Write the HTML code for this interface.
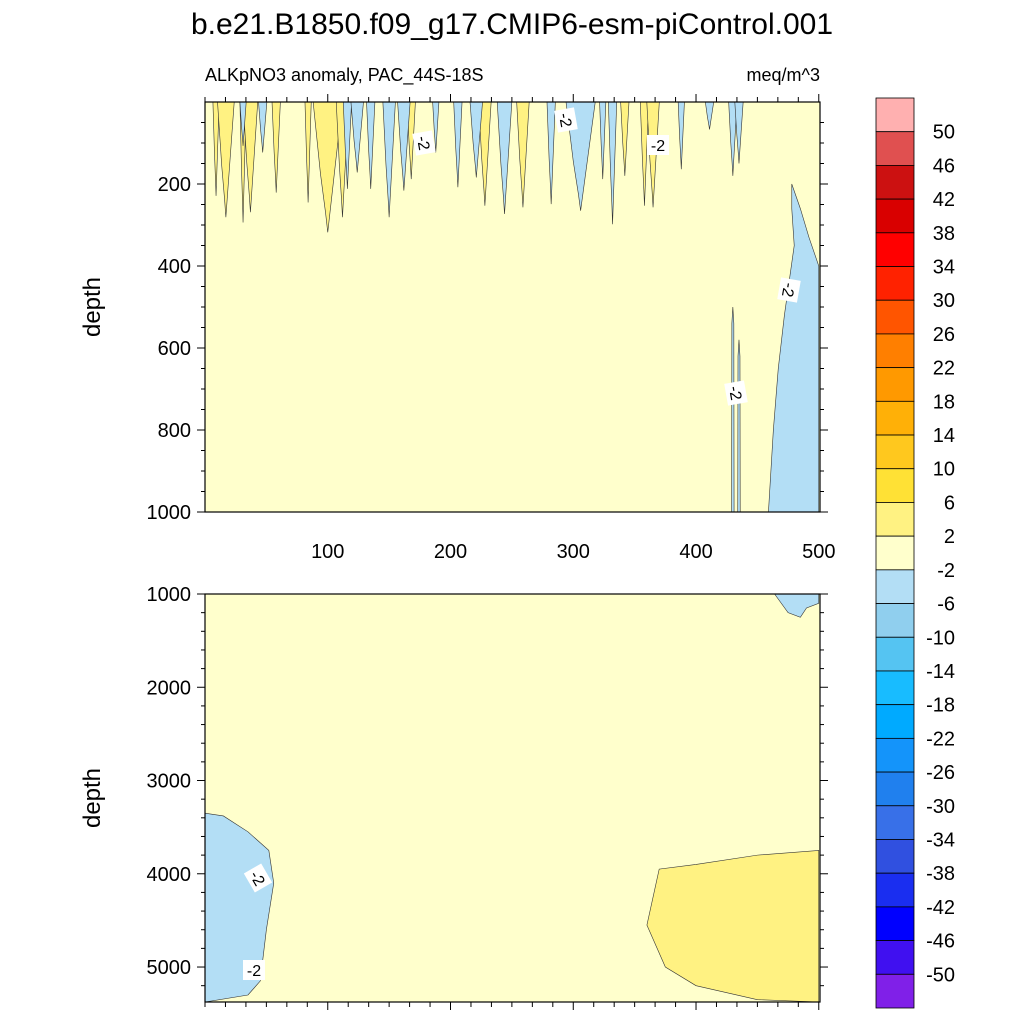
<!DOCTYPE html>
<html><head><meta charset="utf-8"><style>
body{margin:0;background:#fff;}
svg{display:block;font-family:"Liberation Sans",sans-serif;}
</style></head><body>
<svg id="chart" width="1024" height="1024" viewBox="0 0 1024 1024">
<text x="512" y="34" font-size="30" text-anchor="middle">b.e21.B1850.f09_g17.CMIP6-esm-piControl.001</text>
<text x="205" y="81" font-size="18">ALKpNO3 anomaly, PAC_44S-18S</text>
<text x="820" y="81" font-size="18" text-anchor="end">meq/m^3</text>
<g id="topg"></g><g id="botg"></g><g id="cbar"></g>
</svg>
<script>
const NS='http://www.w3.org/2000/svg';
// ---- data ----
const levels=[-50,-46,-42,-38,-34,-30,-26,-22,-18,-14,-10,-6,-2,2,6,10,14,18,22,26,30,34,38,42,46,50];
const colors=['#8020e8','#4010f0','#0000ff','#1a2ef0','#3050e0','#3870e8','#2080ee','#1494fa','#00aaff','#18bcff','#55c4f2','#90cfee','#b3def5','#ffffcc','#fff282','#ffe135','#ffc81e','#ffb007','#ff9900','#ff7f00','#ff5500','#ff2200','#ff0000','#d90000','#cc1111','#e05050','#ffb0b0'];
const xTicks=[100,200,300,400,500];
const topYTicks=[200,400,600,800,1000];
const botYTicks=[1000,2000,3000,4000,5000];
const yellowSpikeYear=[9,17,31,37,58,84,100,112,168,228,259,342,358,365];
const yellowSpikeDepth=[229,281,294,269,221,245,318,281,188,253,257,180,253,257];
const yellowSpikeHW=[1.5,4,1.5,3.5,2,1.5,7,3,2,3,3,2,2,3];
const blueSpikeYear=[31,47,116,124,135,150,162,188,206,221,244,282,306,332,324,388,411,430,435];
const blueSpikeDepth=[107,123,212,172,212,281,216,123,208,184,273,249,265,298,188,164,67,180,150];
const blueSpikeHW=[1.5,2,2,3,2,3,3,1.5,2,3,3.5,2,7,2,1.5,1.5,2,2,2];
const topBlueRegionYear=[478,485,492,500,500,459,463,467,472,480,478];
const topBlueRegionDepth=[200,260,330,400,1000,1000,800,650,520,350,260];
const deepSpikeYear=[430,435];
const deepSpikeTop=[500,580];
const botBlueYear=[0,15,35,52,56,50,45,35,0];
const botBlueDepth=[3350,3380,3550,3750,4100,4600,5150,5300,5375];
const botYellowYear=[360,370,400,450,500,500,450,400,375];
const botYellowDepth=[4550,3950,3900,3800,3750,5375,5350,5200,5000];
const botTopBlueYear=[464,475,485,490,500,500];
const botTopBlueDepth=[1000,1200,1250,1150,1100,1000];
// ---- axes ----
const X0=205,X1=820;
const xs=v=>X0+(v/501)*(X1-X0);
const T0=102,T1=512,B0=594,B1=1002;
const ysT=d=>T0+(d/1000)*(T1-T0);
const ysB=d=>B0+((d-1000)/4375)*(B1-B0);
function el(p,tag,at,name){const e=document.createElementNS(NS,tag);for(const k in at)e.setAttribute(k,at[k]);p.appendChild(e);return e;}
const gTop=document.getElementById('topg'),gBot=document.getElementById('botg'),cb=document.getElementById('cbar');
const C=v=>colors[(()=>{let i=0;while(i<levels.length&&v>levels[i])i++;return i;})()];
const yel=C(4),blu=C(-4),bg=C(0);
const W=1.7;
el(gTop,'rect',{x:X0,y:T0,width:X1-X0,height:T1-T0,fill:bg},'top-panel-background');
function spike(g,y,d,hw,col,ys,name,y0){
  hw*=W;
  const p=`M${xs(Math.max(0,y-hw))},${ys(y0)} L${xs(y-hw*0.5)},${ys(y0+(d-y0)*0.55)} L${xs(y-hw*0.15)},${ys(y0+(d-y0)*0.85)} L${xs(y)},${ys(d)} L${xs(y+hw*0.2)},${ys(y0+(d-y0)*0.8)} L${xs(y+hw*0.5)},${ys(y0+(d-y0)*0.5)} L${xs(y+hw)},${ys(y0)}Z`;
  el(g,'path',{d:p,fill:col,stroke:'#333','stroke-width':0.6},name);
}
yellowSpikeYear.forEach((y,i)=>spike(gTop,y,yellowSpikeDepth[i],yellowSpikeHW[i],yel,ysT,'positive-anomaly-spike',0));
blueSpikeYear.forEach((y,i)=>spike(gTop,y,blueSpikeDepth[i],blueSpikeHW[i],blu,ysT,'negative-anomaly-spike',0));
function poly(g,ya,da,ys,col,name){el(g,'path',{d:'M'+ya.map((y,i)=>xs(y)+','+ys(da[i])).join(' L')+'Z',fill:col,stroke:'#333','stroke-width':0.6},name);}
poly(gTop,topBlueRegionYear,topBlueRegionDepth,ysT,blu,'negative-anomaly-region');
deepSpikeYear.forEach((y,i)=>{el(gTop,'path',{d:`M${xs(y-1)},${ysT(1000)} L${xs(y-0.8)},${ysT(deepSpikeTop[i]+40)} L${xs(y)},${ysT(deepSpikeTop[i])} L${xs(y+0.8)},${ysT(deepSpikeTop[i]+40)} L${xs(y+1)},${ysT(1000)}Z`,fill:blu,stroke:'#333','stroke-width':0.6},'negative-anomaly-spike');});
el(gBot,'rect',{x:X0,y:B0,width:X1-X0,height:B1-B0,fill:bg},'bottom-panel-background');
poly(gBot,botBlueYear,botBlueDepth,ysB,blu,'negative-anomaly-region');
poly(gBot,botYellowYear,botYellowDepth,ysB,yel,'positive-anomaly-region');
poly(gBot,botTopBlueYear,botTopBlueDepth,ysB,blu,'negative-anomaly-region');
function lab(g,x,y,rot,name){const gg=el(g,'g',{transform:`translate(${x},${y}) rotate(${rot})`},name);el(gg,'rect',{x:-11,y:-10,width:22,height:20,fill:'#fff'},'contour-label-box');const t=el(gg,'text',{x:0,y:6,'font-size':16,'text-anchor':'middle'},'contour-label-text');t.textContent='-2';}
lab(gTop,424,143,80,'contour-label');lab(gTop,566,120,80,'contour-label');lab(gTop,658,145,0,'contour-label');lab(gTop,789,290,100,'contour-label');lab(gTop,736,393,80,'contour-label');
lab(gBot,258,878,60,'contour-label');lab(gBot,254,970,0,'contour-label');
function frame(g,y0,y1,ys,ticks,minorStep,maxD,minD,name){
  el(g,'rect',{x:X0,y:y0,width:X1-X0,height:y1-y0,fill:'none',stroke:'#000','stroke-width':1.2},name+'-frame');
  for(let d=minD;d<=maxD+0.1;d+=minorStep){const y=ys(d);const maj=ticks.includes(Math.round(d));const L=maj?8:4;
    el(g,'line',{x1:X0-L,x2:X0,y1:y,y2:y,stroke:'#000'},'y-tick');el(g,'line',{x1:X1,x2:X1+L,y1:y,y2:y,stroke:'#000'},'y-tick');}
  ticks.forEach(t=>{const tx=el(g,'text',{x:X0-14,y:ys(t)+7,'font-size':20,'text-anchor':'end'},'y-tick-label');tx.textContent=t;});
  const yt=el(g,'text',{x:100,y:(y0+y1)/2,'font-size':24,'text-anchor':'middle',transform:`rotate(-90 100 ${(y0+y1)/2})`},'y-axis-title');yt.textContent='depth';
}
frame(gTop,T0,T1,ysT,topYTicks,50,1000,50,'top-panel');
frame(gBot,B0,B1,ysB,botYTicks,200,5375,1000,'bottom-panel');
for(let v=0;v<=500.5;v+=100/6){const maj=xTicks.some(t=>Math.abs(t-v)<0.5);const L=maj?8:5;
  el(gTop,'line',{x1:xs(v),x2:xs(v),y1:T0-L,y2:T0,stroke:'#000'},'x-tick');
  el(gBot,'line',{x1:xs(v),x2:xs(v),y1:B1,y2:B1+L,stroke:'#000'},'x-tick');}
xTicks.forEach(t=>{const tx=el(gTop,'text',{x:xs(t),y:558,'font-size':20,'text-anchor':'middle'},'x-tick-label');tx.textContent=t;});
const CB0=98,CB1=1008,n=colors.length,bh=(CB1-CB0)/n;
colors.slice().reverse().forEach((c,i)=>el(cb,'rect',{x:876,y:CB0+i*bh,width:38,height:bh,fill:c,stroke:'#000','stroke-width':0.8},'colorbar-box'));
levels.slice().reverse().forEach((l,i)=>{const t=el(cb,'text',{x:955,y:CB0+(i+1)*bh+7,'font-size':20,'text-anchor':'end'},'colorbar-label');t.textContent=l;});
</script>
</body></html>
